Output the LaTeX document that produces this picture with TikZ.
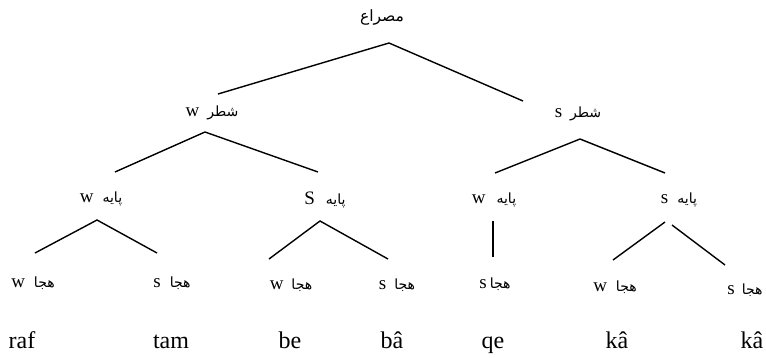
\documentclass[tikz,border=0pt]{standalone}
\usepackage{fontspec}
\setmainfont{Liberation Serif}
\newfontfamily\arabicfont[Script=Arabic,Scale=0.74]{DejaVu Sans}
\TeXXeTstate=1
\newcommand{\pword}[1]{{\arabicfont\beginR #1\endR}}

\tikzset{
  lbl/.style={inner sep=0pt, font=\fontsize{19}{21}\selectfont},
  toplbl/.style={inner sep=0pt, font=\fontsize{21}{23}\selectfont},
  word/.style={inner sep=0pt, anchor=base, font=\fontsize{24}{26}\selectfont},
  edge/.style={line width=1.4pt},
}

\begin{document}
\begin{tikzpicture}[x=1pt,y=-1pt]
  \useasboundingbox (0,0) rectangle (766,357);

  % Verse line
  \node[toplbl] (root) at (382,17) {\pword{مصراع}};

  % Hemistichs
  \node[lbl] (ha) at (212,113) {w\hspace{8pt}\pword{شطر}};
  \node[lbl] (hb) at (578,114) {s\hspace{8pt}\pword{شطر}};

  % Feet
  \node[lbl] (fa) at (101,199) {w\hspace{9pt}\pword{پایه}};
  \node[lbl] (fb) at (325,200) {S\hspace{11pt}\pword{پایه}};
  \node[lbl] (fc) at (494,200) {w\hspace{11pt}\pword{پایه}};
  \node[lbl] (fd) at (679,200) {s\hspace{9pt}\pword{پایه}};

  % Syllables
  \node[lbl] (sa) at (33,283) {w\hspace{9pt}\pword{هجا}};
  \node[lbl] (sb) at (172,283) {s\hspace{9pt}\pword{هجا}};
  \node[lbl] (sc) at (291,285) {w\hspace{8pt}\pword{هجا}};
  \node[lbl] (sd) at (397,285) {s\hspace{8pt}\pword{هجا}};
  \node[lbl] (se) at (495,284) {s\hspace{3pt}\pword{هجا}};
  \node[lbl] (sf) at (615,287) {w\hspace{9pt}\pword{هجا}};
  \node[lbl] (sg) at (745,290) {s\hspace{7pt}\pword{هجا}};

  % Transcription
  \node[word] (wa) at (22,348) {raf};
  \node[word] (wb) at (171,348) {tam};
  \node[word] (wc) at (290,348) {be};
  \node[word] (wd) at (392,348) {bâ};
  \node[word] (we) at (493,348) {qe};
  \node[word] (wf) at (617,348) {kâ};
  \node[word] (wg) at (752,348) {kâ};

  % Branches
  \draw[edge] ([xshift=6pt,yshift=19pt]ha.center) -- ([xshift=7pt,yshift=-26pt]root.center)
    -- ([xshift=-55pt,yshift=13pt]hb.center);
  \draw[edge] ([xshift=14pt,yshift=27pt]fa.center) -- ([xshift=-7pt,yshift=-19pt]ha.center)
    -- ([xshift=-7pt,yshift=28pt]fb.center);
  \draw[edge] ([xshift=1pt,yshift=27pt]fc.center) -- ([xshift=2pt,yshift=-25pt]hb.center)
    -- ([xshift=-14pt,yshift=27pt]fd.center);
  \draw[edge] ([xshift=2pt,yshift=30pt]sa.center) -- ([xshift=-4pt,yshift=-21pt]fa.center)
    -- ([xshift=-15pt,yshift=30pt]sb.center);
  \draw[edge] ([xshift=-22pt,yshift=26pt]sc.center) -- ([xshift=-5pt,yshift=-21pt]fb.center)
    -- ([xshift=-9pt,yshift=26pt]sd.center);
  \draw[edge] ([xshift=-1pt,yshift=-21pt]fc.center) -- ([xshift=-2pt,yshift=27pt]se.center);
  \draw[edge] ([xshift=-14pt,yshift=-22pt]fd.center) -- ([xshift=-2pt,yshift=27pt]sf.center);
  \draw[edge] ([xshift=-7pt,yshift=-25pt]fd.center) -- ([xshift=-20pt,yshift=25pt]sg.center);
\end{tikzpicture}
\end{document}
